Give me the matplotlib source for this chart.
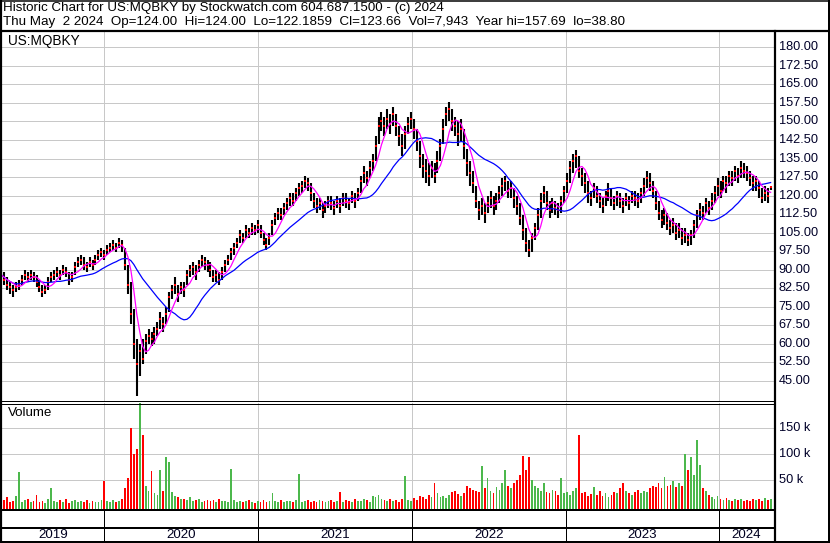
import matplotlib
matplotlib.use("Agg")
import matplotlib.pyplot as plt
import matplotlib.dates as mdates
import numpy as np
import pandas as pd

# ---------------- data (weekly) ----------------
close = [88, 86, 84, 83, 82, 83, 84, 86, 88, 87, 88, 87,
         85, 83, 81, 82,
         85, 87, 88, 89, 88, 90, 89,
         86, 87,
         91, 93, 94, 92,
         91, 93, 92, 94,
         96, 97, 96, 98,
         99, 100, 99, 101,
         100, 92, 84,
         72, 60, 52, 57, 54, 61, 63,
         62, 64, 66, 70, 68, 72,
         79, 82, 84, 80, 83, 82,
         88, 90, 91, 89, 92,
         94, 93, 92, 90, 87, 88, 86,
         89, 92, 94, 97, 99, 101, 104, 103, 106, 105, 107, 106,
         108, 105, 102, 100, 103,
         108, 111, 113, 112, 115,
         117, 119, 118, 121, 123,
         124, 126, 125, 121,
         118, 116, 117, 114, 116, 118,
         117, 115, 118, 116, 119,
         118, 117, 120, 118, 121,
         126, 129, 127, 131,
         134, 140, 148,
         150, 148, 151, 149, 153,
         148, 144, 140, 145,
         149, 151, 147, 142,
         136, 132, 130, 128,
         131, 128, 134,
         140, 147, 153, 155,
         150, 148, 145, 147,
         140, 133, 129, 125,
         118, 114, 116, 113, 117,
         119, 116, 118, 121, 124,
         126, 122, 123, 119, 116,
         111, 106, 101, 98,
         103, 107, 112, 118,
         121, 117, 114, 117, 115, 114,
         118, 122, 126, 131,
         134, 136, 130, 128,
         125, 121, 119, 123, 120,
         118, 116, 120, 122, 119, 117, 120,
         118, 116, 119, 117, 120, 119, 118,
         121, 124, 127, 125, 122,
         117, 113, 110, 112,
         109, 107, 108, 105, 106, 103, 104, 102,
         104, 108, 112, 114,
         113, 117, 115, 118, 121,
         124, 122, 126, 125, 128,
         127, 130, 128, 131, 130,
         129, 127, 125, 126, 123,
         119, 121, 120, 123.66]

high = [90, 89, 87, 85, 84, 85, 86, 88, 90, 89, 90, 89,
        88, 86, 84, 84,
        87, 89, 90, 91, 90, 92, 91,
        89, 89,
        93, 95, 96, 95,
        93, 95, 94, 96,
        98, 99, 98, 100,
        101, 102, 101, 103,
        102, 99, 92,
        85, 74, 62, 60, 62, 64, 66,
        65, 67, 69, 73, 71, 75,
        81, 84, 87, 84, 85, 85,
        90, 92, 93, 92, 94,
        96, 95, 94, 93, 90, 90, 89,
        91, 94, 96, 99, 101, 103, 106, 105, 108, 107, 109, 108,
        110, 108, 105, 103, 105,
        110, 113, 115, 115, 117,
        119, 121, 121, 123, 125,
        126, 128, 127, 125,
        121, 119, 119, 117, 118, 120,
        120, 118, 120, 119, 121,
        121, 119, 122, 121, 123,
        128, 132, 130, 134,
        137, 144, 152,
        154, 152, 155, 153, 156,
        153, 148, 145, 148,
        152, 154, 151, 147,
        142, 137, 135, 133,
        134, 133, 138,
        143, 151, 156, 157.69,
        155, 152, 150, 151,
        147, 139, 134, 130,
        124, 118, 119, 117, 120,
        122, 120, 121, 124, 127,
        128, 126, 126, 123, 120,
        117, 112, 107, 102,
        105, 109, 115, 121,
        124, 122, 118, 119, 118, 117,
        120, 124, 129, 134,
        137, 138.5, 136, 131,
        129, 126, 122, 125, 124,
        121, 119, 122, 125, 123, 120, 122,
        121, 119, 121, 120, 122, 122, 121,
        123, 127, 130, 129, 126,
        122, 118, 114, 115,
        113, 110, 111, 109, 109, 107, 107, 105,
        106, 110, 114, 117,
        116, 119, 118, 121, 124,
        127, 126, 128, 128, 130,
        130, 132, 131, 134, 133,
        132, 130, 128, 128, 126,
        123, 124, 123, 124]

low = [86, 84, 82, 80, 79, 81, 82, 84, 86, 85, 86, 85,
       83, 81, 79, 80,
       82, 85, 86, 87, 86, 88, 87,
       84, 85,
       88, 91, 92, 90,
       89, 91, 90, 92,
       94, 95, 94, 96,
       97, 98, 97, 99,
       97, 90, 80,
       68, 54, 38.8, 47, 52, 56, 60,
       59, 60, 63, 66, 65, 68,
       73, 78, 80, 77, 80, 79,
       84, 87, 88, 86, 89,
       91, 90, 89, 87, 85, 85, 84,
       86, 89, 92, 94, 96, 99, 101, 101, 103, 103, 104, 104,
       105, 103, 100, 98, 100,
       104, 108, 110, 110, 112,
       114, 116, 116, 118, 120,
       121, 123, 122, 118,
       115, 113, 114, 111, 113, 115,
       114, 112, 115, 113, 116,
       115, 114, 117, 115, 118,
       121, 125, 124, 127,
       130, 134, 141,
       146, 144, 147, 145, 148,
       144, 140, 136, 139,
       145, 147, 143, 138,
       131, 127, 125, 124,
       127, 125, 129,
       134, 141, 148, 150,
       146, 144, 140, 142,
       135, 128, 124, 121,
       115, 110, 112, 109, 113,
       115, 112, 114, 117, 120,
       122, 119, 119, 115, 112,
       108, 102, 97, 95,
       97, 102, 106, 111,
       117, 114, 111, 113, 112, 111,
       113, 117, 121, 125,
       129, 131, 127, 124,
       121, 117, 116, 119, 117,
       115, 113, 116, 118, 116, 114, 116,
       115, 113, 116, 114, 117, 116, 115,
       117, 120, 123, 122, 119,
       114, 110, 107, 108,
       106, 104, 105, 102, 103, 100, 101, 99.5,
       100, 103, 107, 110,
       110, 113, 112, 114, 117,
       120, 119, 122, 121, 124,
       124, 126, 125, 127, 127,
       126, 124, 122, 122, 119,
       117, 118, 117, 122.19]

volume_k = [45, 12, 18, 8, 10, 20, 67, 9, 12, 15, 8, 10,
            22, 9, 11, 7, 14, 35, 10, 8, 12, 9, 14, 7,
            10, 12, 8, 11, 9, 13, 7, 10, 9, 8, 12, 48,
            10, 9, 12, 8, 11, 14, 35, 55, 150, 100, 110, 200,
            137, 40, 30, 68, 25, 22, 70, 30, 95, 85, 28, 20,
            18, 15, 14, 12, 18, 10, 12, 15, 9, 11, 13, 10,
            12, 8, 14, 10, 11, 9, 72, 12, 9, 11, 8, 10,
            13, 9, 7, 10, 8, 12, 9, 11, 25, 10, 8, 12,
            9, 11, 10, 8, 12, 62, 9, 10, 13, 8, 11, 9,
            12, 10, 8, 11, 13, 9, 10, 28, 8, 12, 10, 9,
            14, 11, 10, 15, 12, 9, 20, 18, 22, 14, 12, 10,
            15, 11, 13, 9, 14, 58, 12, 10, 16, 13, 20, 18,
            15, 22, 19, 45, 25, 18, 20, 16, 22, 28, 30, 24,
            20, 26, 40, 35, 32, 30, 28, 77, 35, 55, 30, 25,
            38, 32, 45, 70, 40, 35, 45, 50, 60, 97, 70, 95,
            50, 40, 35, 30, 45, 28, 25, 32, 30, 22, 55, 25,
            28, 22, 30, 35, 137, 25, 28, 20, 24, 38, 22, 30,
            20, 25, 18, 22, 28, 26, 35, 45, 30, 25, 22, 28,
            32, 25, 30, 28, 35, 40, 38, 45, 35, 57, 40, 42,
            48, 38, 45, 40, 100, 70, 95, 60, 128, 80, 35, 30,
            22, 18, 15, 20, 14, 12, 16, 13, 11, 15, 12, 14,
            10, 13, 11, 15, 12, 14, 10, 16, 12, 14]

price_ticks = [45, 52.5, 60, 67.5, 75, 82.5, 90, 97.5, 105, 112.5, 120, 127.5,
               135, 142.5, 150, 157.5, 165, 172.5, 180]
volume_ticks_k = [50, 100, 150]
years = [2019, 2020, 2021, 2022, 2023, 2024]

symbol = "US:MQBKY"
header1 = "Historic Chart for US:MQBKY by Stockwatch.com 604.687.1500 - (c) 2024"
header2 = ("Thu May  2 2024  Op=124.00  Hi=124.00  Lo=122.1859  Cl=123.66  "
           "Vol=7,943  Year hi=157.69  lo=38.80")

# ---------------- build ----------------
n = len(close)
dates = pd.date_range(end="2024-05-02", periods=n, freq="7D")
s = pd.Series(close, index=dates)
ma_short = s.rolling(5, min_periods=1).mean()
ma_long = s.rolling(20, min_periods=1).mean()
chg = np.diff(np.asarray(close, dtype=float), prepend=close[0])
vcolors = ["#ff0000" if c < 0 else "#4cb84c" for c in chg]

plt.rcParams["font.family"] = ["Liberation Sans", "DejaVu Sans"]
W, H = 830, 543
fig = plt.figure(figsize=(W / 100, H / 100), dpi=100)
fig.patch.set_facecolor("white")

def fx(px_):
    return px_ / W

def fy(py_):
    return 1 - py_ / H

X0, X1 = 2, 774
xlim = (mdates.date2num(pd.Timestamp("2019-05-04")), mdates.date2num(pd.Timestamp("2024-05-10")))
grid_c = "#c8c8c8"
px = 0.72

# price panel
ax = fig.add_axes([fx(X0), fy(401), fx(X1 - X0), (401 - 32) / H])
ax.set_xlim(xlim)
ax.set_ylim(36.9, 186.2)
for sp in ax.spines.values():
    sp.set_visible(False)
ax.set_xticks([])
ax.set_yticks([])
for p in price_ticks:
    ax.axhline(p, color=grid_c, lw=1 * px, zorder=0)
for y in years[1:]:
    ax.axvline(mdates.date2num(pd.Timestamp(f"{y}-01-01")), color=grid_c, lw=1 * px, zorder=0)
ax.vlines(dates, low, high, color="black", lw=1.5, zorder=2)
ax.plot(dates, close, "s", color="#ff0000", ms=1.9, mew=0, zorder=3)
ax.plot(ma_long.index, ma_long.values, color="#0000ff", lw=0.9, zorder=4)
ax.plot(ma_short.index, ma_short.values, color="#ff00ff", lw=0.9, zorder=4)

# volume panel
VBOT = -5000
av = fig.add_axes([fx(X0), fy(509), fx(X1 - X0), (509 - 403) / H])
av.set_xlim(xlim)
av.set_ylim(VBOT, 198700)
for sp in av.spines.values():
    sp.set_visible(False)
av.set_xticks([])
av.set_yticks([])
for v in volume_ticks_k:
    av.axhline(v * 1000, color=grid_c, lw=1 * px, zorder=0)
for y in years[1:]:
    av.axvline(mdates.date2num(pd.Timestamp(f"{y}-01-01")), color=grid_c, lw=1 * px, zorder=0)
vol = np.asarray(volume_k) * 1000.0
av.bar(dates, vol - VBOT, width=4.2, bottom=VBOT, color=vcolors, linewidth=0, zorder=2)

# year band
ab = fig.add_axes([fx(X0), fy(542), fx(X1 - X0), (542 - 509) / H])
ab.set_xlim(xlim)
ab.set_ylim(542, 509)
ab.axis("off")
for y in years[1:]:
    ab.axvline(mdates.date2num(pd.Timestamp(f"{y}-01-01")), color="black", lw=1 * px)
bounds = [xlim[0]] + [mdates.date2num(pd.Timestamp(f"{y}-01-01")) for y in years[1:]] + [xlim[1]]
for i, y in enumerate(years):
    ab.text((bounds[i] + bounds[i + 1]) / 2, 535, str(y), ha="center", va="center",
            fontsize=9.6, color="#000020")

# overlay with frames and texts (pixel coords)
ov = fig.add_axes([0, 0, 1, 1], zorder=10)
ov.set_xlim(0, W)
ov.set_ylim(H, 0)
ov.axis("off")
ov.patch.set_alpha(0)
k = "black"
ov.plot([1, 1], [0, 543], color=k, lw=2.2 * px)
ov.plot([0, 830], [0.5, 0.5], color=k, lw=1.5 * px)
ov.plot([828.5, 828.5], [0, 543], color=k, lw=2 * px)
ov.plot([0, 830], [542, 542], color=k, lw=2 * px)
ov.plot([0, 830], [31, 31], color=k, lw=2.2 * px)
ov.plot([775, 775], [31, 543], color=k, lw=2.2 * px)
ov.plot([0, 775], [401, 401], color=k, lw=1 * px)
ov.plot([0, 775], [403.5, 403.5], color=k, lw=1 * px)
ov.plot([0, 775], [510, 510], color=k, lw=2 * px)
ov.plot([0, 775], [527.5, 527.5], color=k, lw=2 * px)

ov.text(3, 8.5, header1, ha="left", va="center", fontsize=9.6, color="black")
ov.text(3, 22, header2, ha="left", va="center", fontsize=9.6, color="black")
ov.text(8, 41.5, symbol, ha="left", va="center", fontsize=9.8, color="black")
ov.text(8, 413, "Volume", ha="left", va="center", fontsize=9.6, color="black")

def py_price(p):
    return 401 - (p - 36.9) / (186.2 - 36.9) * (401 - 32)

for p in price_ticks:
    ov.text(778.5, py_price(p), f"{p:.2f}", ha="left", va="center", fontsize=9.2, color="#000028")

def py_vol(v):
    return 509 - (v - VBOT) / (198700 - VBOT) * (509 - 403)

for v in volume_ticks_k:
    ov.text(778.5, py_vol(v * 1000), f"{v} k", ha="left", va="center", fontsize=9.2, color="#000028")

fig.savefig("out.png", dpi=100, facecolor="white")
